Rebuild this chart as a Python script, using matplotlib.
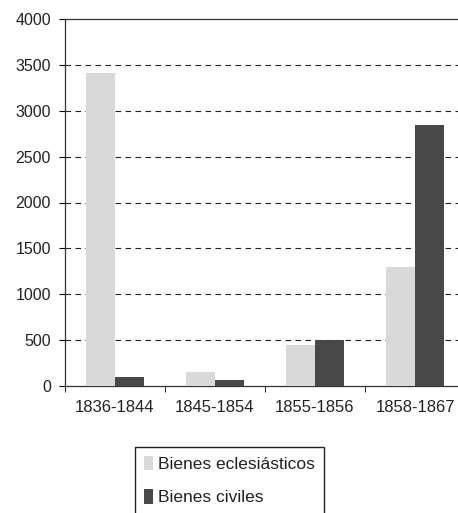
import numpy as np
import matplotlib.pyplot as plt

plt.rcParams['font.family'] = ['Liberation Sans', 'DejaVu Sans']

periods = ['1836-1844', '1845-1854', '1855-1856', '1858-1867']
eclesiasticos = [3410, 150, 450, 1300]
civiles = [100, 70, 500, 2850]

fig = plt.figure(figsize=(4.58, 5.13), dpi=100)
ax = fig.add_axes([65/458, 1 - 386/513, 400/458, 367/513])

x = np.arange(len(periods))
w = 0.29
ax.bar(x - w/2, eclesiasticos, w, color='#d9d9d9', label='Bienes eclesiásticos', zorder=3)
ax.bar(x + w/2, civiles, w, color='#484848', label='Bienes civiles', zorder=3)

ax.set_xlim(-0.5, 3.5)
ax.set_ylim(0, 4000)
ax.set_yticks(range(0, 4001, 500))
ax.set_xticks(x)
ax.set_xticklabels(periods, fontsize=12, color='#222222')
ax.set_xticks(np.arange(-0.5, 4, 1), minor=True)
ax.tick_params(axis='x', which='major', length=0, pad=10)
ax.tick_params(axis='x', which='minor', length=4, direction='out')
ax.tick_params(axis='y', labelsize=11.5, labelcolor='#222222', length=4, direction='out', pad=6)

for v in range(500, 4000, 500):
    ax.axhline(v, color='#222222', linestyle=(0, (5, 4)), linewidth=0.8, zorder=1)

for s in ['top', 'left', 'bottom']:
    ax.spines[s].set_color('#333333')
    ax.spines[s].set_linewidth(0.9)
ax.spines['right'].set_visible(False)

leg = fig.legend(loc='upper left', bbox_to_anchor=(135/458, 1 - 447/513),
                 borderaxespad=0, fontsize=12.5, handlelength=0.55, handleheight=0.9,
                 handletextpad=0.3, labelspacing=1.0, fancybox=False, borderpad=0.5,
                 edgecolor='#222222', framealpha=1)
leg.get_frame().set_linewidth(1.0)
for t in leg.get_texts():
    t.set_color('#222222')

fig.savefig('out.png', dpi=100)
